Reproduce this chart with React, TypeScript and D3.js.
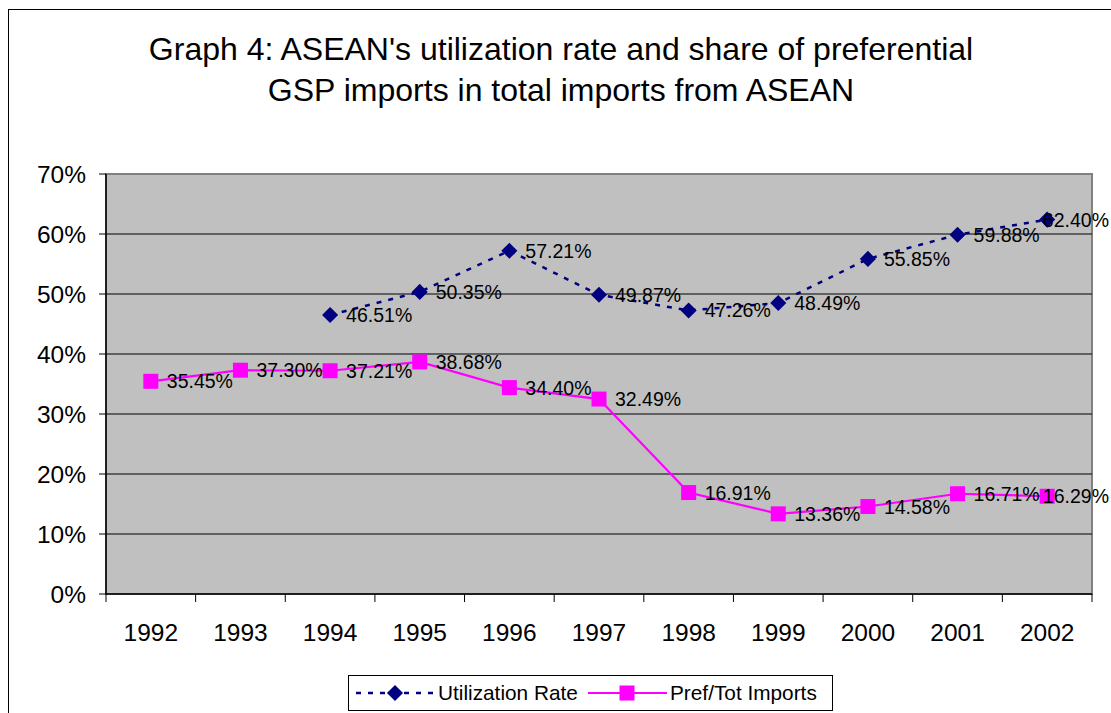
import React from 'react';
import * as d3 from 'd3';

const years = ['1992', '1993', '1994', '1995', '1996', '1997', '1998', '1999', '2000', '2001', '2002'];
const utilization = [null, null, 46.51, 50.35, 57.21, 49.87, 47.26, 48.49, 55.85, 59.88, 62.4];
const prefTot = [35.45, 37.3, 37.21, 38.68, 34.4, 32.49, 16.91, 13.36, 14.58, 16.71, 16.29];
const yTicks = [0, 10, 20, 30, 40, 50, 60, 70];
const titleLines = ["Graph 4: ASEAN's utilization rate and share of preferential", 'GSP imports in total imports from ASEAN'];

const font = 'Liberation Sans, Arial, sans-serif';
const plot = { left: 106, right: 1092, top: 174, bottom: 594 };

const App = () => {
  const x = d3.scaleBand().domain(years).range([plot.left, plot.right]).padding(0);
  const y = d3.scaleLinear().domain([0, 70]).range([plot.bottom, plot.top]);
  const cx = (i) => x(years[i]) + x.bandwidth() / 2;

  const line = d3.line()
    .defined((d) => d != null)
    .x((d, i) => cx(i))
    .y((d) => y(d));

  const utilPts = utilization.map((v, i) => ({ v, i })).filter((d) => d.v != null);
  const prefPts = prefTot.map((v, i) => ({ v, i }));
  const diamond = d3.symbol().type(d3.symbolDiamond2).size(165)();
  const fmt = (v) => v.toFixed(2) + '%';
  const last = years.length - 1;

  // labels sit right of the marker; the last one is pulled back to fit the frame
  const label = (d) => (
    <text
      key={d.i}
      x={d.i === last ? 1109 : cx(d.i) + 16}
      y={y(d.v)}
      dy="0.36em"
      textAnchor={d.i === last ? 'end' : 'start'}
      fontSize={19.5}
    >
      {fmt(d.v)}
    </text>
  );

  return (
    <svg width={1111} height={713} style={{ position: 'absolute', left: 0, top: 0, background: '#fff' }} fontFamily={font}>
      <rect x={8.5} y={9.5} width={1200} height={800} fill="none" stroke="#000" strokeWidth={1} />
      {titleLines.map((t, i) => (
        <text key={i} x={561} y={60 + i * 41} textAnchor="middle" fontSize={32}>{t}</text>
      ))}

      {/* plot area */}
      <rect x={plot.left} y={plot.top} width={plot.right - plot.left} height={plot.bottom - plot.top} fill="#c0c0c0" stroke="#808080" strokeWidth={2} />
      {yTicks.map((t) => (
        <g key={t}>
          {t > 0 && t < 70 && (
            <line x1={plot.left} x2={plot.right} y1={y(t)} y2={y(t)} stroke="#000" strokeWidth={1} />
          )}
          <line x1={plot.left - 7} x2={plot.left} y1={y(t)} y2={y(t)} stroke="#000" />
          <text x={86} y={y(t)} dy="0.36em" textAnchor="end" fontSize={24.5}>{t}%</text>
        </g>
      ))}
      <line x1={plot.left} x2={plot.left} y1={plot.top} y2={plot.bottom} stroke="#000" strokeWidth={1.5} />
      <line x1={plot.left} x2={plot.right} y1={plot.bottom} y2={plot.bottom} stroke="#000" strokeWidth={1.5} />
      {years.map((yr, i) => (
        <g key={yr}>
          <line x1={x(yr)} x2={x(yr)} y1={plot.bottom} y2={plot.bottom + 8} stroke="#000" />
          <text x={cx(i)} y={641} textAnchor="middle" fontSize={24.5}>{yr}</text>
        </g>
      ))}
      <line x1={plot.right} x2={plot.right} y1={plot.bottom} y2={plot.bottom + 8} stroke="#000" />

      {/* series */}
      <path d={line(utilization)} fill="none" stroke="#000080" strokeWidth={2.5} strokeDasharray="5,7" />
      <path d={line(prefTot)} fill="none" stroke="#ff00ff" strokeWidth={2.2} />
      {utilPts.map((d) => (
        <path key={d.i} d={diamond} transform={`translate(${cx(d.i)},${y(d.v)})`} fill="#000080" />
      ))}
      {prefPts.map((d) => (
        <rect key={d.i} x={cx(d.i) - 7.5} y={y(d.v) - 7.5} width={15} height={15} fill="#ff00ff" />
      ))}
      {utilPts.map(label)}
      {prefPts.map(label)}

      {/* legend */}
      <rect x={348.5} y={675.5} width={484} height={35} fill="#fff" stroke="#000" />
      <line x1={356} x2={436} y1={693} y2={693} stroke="#000080" strokeWidth={2.5} strokeDasharray="5,7" />
      <path d={diamond} transform="translate(395,693)" fill="#000080" />
      <text x={438} y={693} dy="0.36em" fontSize={20.8}>Utilization Rate</text>
      <line x1={588} x2={667} y1={693} y2={693} stroke="#ff00ff" strokeWidth={2.2} />
      <rect x={619.5} y={685.5} width={15} height={15} fill="#ff00ff" />
      <text x={670} y={693} dy="0.36em" fontSize={20.8}>Pref/Tot Imports</text>
    </svg>
  );
};

export default App;
